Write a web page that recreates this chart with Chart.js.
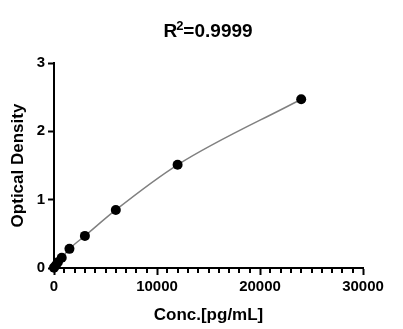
<!DOCTYPE html>
<html><head><meta charset="utf-8">
<script src="https://cdn.jsdelivr.net/npm/chart.js@4"></script>
<style>html,body{margin:0;padding:0;background:#fff}#wrap{width:403px;height:329px}</style>
</head><body><div id="wrap"><canvas id="c" width="403" height="329"></canvas></div>
<script>
const concentrations = [0, 187.5, 375, 750, 1500, 3000, 6000, 12000, 24000];
const opticalDensity = [0.005, 0.04, 0.085, 0.15, 0.28, 0.47, 0.85, 1.51, 2.47];
const xTicks = [0, 10000, 20000, 30000];
const yTicks = [0, 1, 2, 3];
const titleBase = 'R';
const titleSup = '2';
const titleRest = '=0.9999';
const xTitle = 'Conc.[pg/mL]';
const yTitle = 'Optical Density';

const pts = concentrations.map((c, i) => ({x: c, y: opticalDensity[i]}));
const FONT = '"Liberation Sans", Arial, sans-serif';

const minorTicks = {
  id: 'minorTicks',
  afterDraw(chart) {
    const xs = chart.scales.x, ctx = chart.ctx;
    const y0 = xs.top;
    ctx.save();
    ctx.strokeStyle = '#000';
    ctx.lineWidth = 2;
    for (let v = 1000; v < 30000; v += 1000) {
      if (v % 10000 === 0) continue;
      const px = Math.round(xs.getPixelForValue(v));
      ctx.beginPath();
      ctx.moveTo(px, y0);
      ctx.lineTo(px, y0 + 5);
      ctx.stroke();
    }
    ctx.restore();
  }
};

const titlePlugin = {
  id: 'supTitle',
  afterDraw(chart) {
    const ctx = chart.ctx;
    ctx.save();
    ctx.fillStyle = '#000';
    ctx.textBaseline = 'alphabetic';
    const big = 'bold 19px ' + FONT, small = 'bold 13px ' + FONT;
    ctx.font = big; const w1 = ctx.measureText(titleBase).width;
    const w3 = ctx.measureText(titleRest).width;
    ctx.font = small; const w2 = ctx.measureText(titleSup).width;
    const total = w1 + w2 + w3;
    const cx = (chart.chartArea.left + chart.chartArea.right) / 2;
    let x = cx - total / 2; const base = 37;
    ctx.font = big; ctx.fillText(titleBase, x, base); x += w1;
    ctx.font = small; ctx.fillText(titleSup, x - 1, base - 7); x += w2 - 1;
    ctx.font = big; ctx.fillText(titleRest, x, base);
    ctx.restore();
  }
};

new Chart(document.getElementById('c'), {
  type: 'scatter',
  data: {
    datasets: [{
      data: pts,
      showLine: true,
      borderColor: '#808080',
      borderWidth: 1.5,
      cubicInterpolationMode: 'monotone',
      pointRadius: 5,
      pointHoverRadius: 5,
      pointBackgroundColor: '#000',
      pointBorderColor: '#000',
      pointBorderWidth: 0,
      clip: false
    }]
  },
  options: {
    responsive: false,
    animation: false,
    devicePixelRatio: 1,
    layout: {padding: {left: 0, right: 40, top: 63, bottom: 0}},
    plugins: {
      legend: {display: false},
      tooltip: {enabled: false},
      title: {display: false}
    },
    scales: {
      x: {
        type: 'linear',
        min: 0, max: 30000,
        afterBuildTicks(s) { s.ticks = xTicks.map(v => ({value: v})); },
        afterFit(s) { s.height = 61; },
        border: {display: true, color: '#000', width: 2},
        grid: {drawOnChartArea: false, drawTicks: true, tickLength: 7, tickColor: '#000', tickWidth: 2},
        ticks: {color: '#000', font: {family: FONT, size: 15, weight: 'bold'}, padding: 3, maxRotation: 0,
          callback: v => String(v)},
        title: {display: true, text: xTitle, color: '#000', font: {family: FONT, size: 17, weight: 'bold'}, padding: {top: 2, bottom: 3}}
      },
      y: {
        type: 'linear',
        min: 0, max: 3,
        afterBuildTicks(s) { s.ticks = yTicks.map(v => ({value: v})); },
        afterFit(s) { s.width = 54; },
        border: {display: true, color: '#000', width: 2},
        grid: {drawOnChartArea: false, drawTicks: true, tickLength: 6, tickColor: '#000', tickWidth: 2},
        ticks: {color: '#000', font: {family: FONT, size: 15, weight: 'bold'}, padding: 3,
          callback: v => String(v)},
        title: {display: true, text: yTitle, color: '#000', font: {family: FONT, size: 17, weight: 'bold'}, padding: {top: 8, bottom: 4}}
      }
    }
  },
  plugins: [minorTicks, titlePlugin]
});
</script>
</body></html>
